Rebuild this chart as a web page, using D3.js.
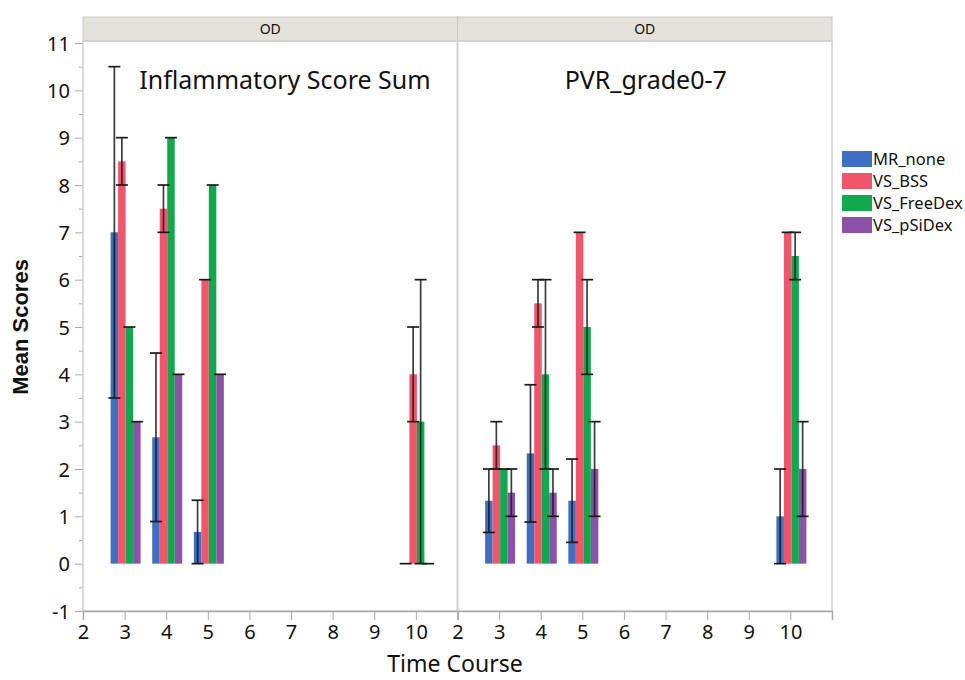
<html>
<head>
<meta charset="utf-8">
<title>Mean Scores by Time Course</title>
<script src="https://d3js.org/d3.v7.min.js"></script>
<style>
  body { margin: 0; background: #fff; }
  text { font-family: "Noto Sans", "Open Sans", sans-serif; fill: #111; }
</style>
</head>
<body>
<script>
// values
var times = [3, 4, 5, 10];
var groups = ["MR_none", "VS_BSS", "VS_FreeDex", "VS_pSiDex"];
var colors = ["#3f6fc2", "#f0566b", "#12a84f", "#8b52a8"];
var panel_titles = ["Inflammatory Score Sum", "PVR_grade0-7"];
var strip_labels = ["OD", "OD"];
var x_ticks = [2, 3, 4, 5, 6, 7, 8, 9, 10];
var y_ticks = [-1, 0, 1, 2, 3, 4, 5, 6, 7, 8, 9, 10, 11];

// Inflammatory Score Sum (mean, error half-width)
var infl_MR_none = [7, 2.67, 0.67, 0];
var infl_MR_none_err = [3.5, 1.78, 0.67, 0];
var infl_VS_BSS = [8.5, 7.5, 6, 4];
var infl_VS_BSS_err = [0.5, 0.5, 0, 1];
var infl_VS_FreeDex = [5, 9, 8, 3];
var infl_VS_FreeDex_err = [0, 0, 0, 3];
var infl_VS_pSiDex = [3, 4, 4, 0];
var infl_VS_pSiDex_err = [0, 0, 0, 0];

// PVR_grade0-7
var pvr_MR_none = [1.33, 2.33, 1.33, 1];
var pvr_MR_none_err = [0.67, 1.45, 0.88, 1];
var pvr_VS_BSS = [2.5, 5.5, 7, 7];
var pvr_VS_BSS_err = [0.5, 0.5, 0, 0];
var pvr_VS_FreeDex = [2, 4, 5, 6.5];
var pvr_VS_FreeDex_err = [0, 2, 1, 0.5];
var pvr_VS_pSiDex = [1.5, 1.5, 2, 2];
var pvr_VS_pSiDex_err = [0.5, 0.5, 1, 1];

var panels = [
    { means: [infl_MR_none, infl_VS_BSS, infl_VS_FreeDex, infl_VS_pSiDex],
      errs: [infl_MR_none_err, infl_VS_BSS_err, infl_VS_FreeDex_err, infl_VS_pSiDex_err] },
    { means: [pvr_MR_none, pvr_VS_BSS, pvr_VS_FreeDex, pvr_VS_pSiDex],
      errs: [pvr_MR_none_err, pvr_VS_BSS_err, pvr_VS_FreeDex_err, pvr_VS_pSiDex_err] }
];

var width = 965, height = 680;
var plot_top = 41, plot_bottom = 611;
var strip_top = 17;
var panel_left = [83, 457.5];
var panel_w = 374.5;

var svg = d3.select("body").append("svg")
    .attr("width", width)
    .attr("height", height);

var y = d3.scaleLinear().domain([-1, 11]).range([611, 43]);
var plain = function (d) { return String(d); };

// y axis with half-unit minor ticks
var yMinor = d3.range(-1, 11.01, 0.5).filter(function (d) { return d % 1 !== 0; });
svg.append("g")
    .attr("transform", "translate(" + panel_left[0] + ",0)")
    .call(d3.axisLeft(y).tickValues(yMinor).tickSize(4).tickFormat(""))
    .call(function (g) { g.select(".domain").remove(); g.selectAll("line").attr("stroke", "#aaa"); });
svg.append("g")
    .attr("transform", "translate(" + panel_left[0] + ",0)")
    .call(d3.axisLeft(y).tickValues(y_ticks).tickSize(8).tickPadding(5).tickFormat(plain))
    .call(function (g) {
        g.select(".domain").remove();
        g.selectAll("line").attr("stroke", "#aaa");
        g.selectAll("text").style("font-size", "20px").attr("dy", "0.36em");
    });

var cap = 12;
var groupW = 30;

panels.forEach(function (p, pi) {
    var x0 = panel_left[pi];
    var x = d3.scaleLinear().domain([2, 11]).range([x0, x0 + panel_w]);
    var inner = d3.scaleBand().domain(groups).range([-groupW / 2, groupW / 2]);

    // header strip
    svg.append("rect")
        .attr("x", x0).attr("y", strip_top)
        .attr("width", panel_w).attr("height", plot_top - strip_top)
        .attr("fill", "#e4e2d9").attr("stroke", "#c9c7bf").attr("stroke-width", 1);
    svg.append("text")
        .attr("x", x0 + panel_w / 2).attr("y", 34)
        .attr("text-anchor", "middle")
        .style("font-size", "14px")
        .text(strip_labels[pi]);

    // panel frame
    svg.append("rect")
        .attr("x", x0).attr("y", plot_top)
        .attr("width", panel_w).attr("height", plot_bottom - plot_top)
        .attr("fill", "none").attr("stroke", "#cfcfcf").attr("stroke-width", 1.5);

    // x axis
    svg.append("g")
        .attr("transform", "translate(0," + plot_bottom + ")")
        .call(d3.axisBottom(x).tickValues(x_ticks).tickSize(9).tickPadding(5).tickFormat(plain))
        .call(function (g) {
            g.select(".domain").attr("stroke", "#aaa").attr("stroke-width", 1.5);
            g.selectAll("line").attr("stroke", "#aaa");
            g.selectAll("text").style("font-size", "20px");
        });

    // panel title
    svg.append("text")
        .attr("x", pi === 0 ? x0 + 202 : x0 + panel_w / 2 + 1)
        .attr("y", 89)
        .attr("text-anchor", "middle")
        .style("font-size", "25px")
        .text(panel_titles[pi]);

    // bars
    var bars = [];
    groups.forEach(function (gname, gi) {
        times.forEach(function (t, ti) {
            var m = p.means[gi][ti];
            if (m === null) return;
            bars.push({ g: gname, gi: gi, t: t, m: m, e: p.errs[gi][ti] });
        });
    });

    var cx = function (d) { return x(d.t) + inner(d.g) + inner.bandwidth() / 2 + 1; };

    svg.append("g").selectAll("rect")
        .data(bars)
        .enter()
        .append("rect")
        .attr("x", function (d) { return x(d.t) + inner(d.g) + 1; })
        .attr("width", inner.bandwidth())
        .attr("y", function (d) { return y(Math.max(0, d.m)); })
        .attr("height", function (d) { return Math.abs(y(0) - y(d.m)); })
        .attr("fill", function (d) { return colors[d.gi]; });

    // error bars
    var eg = svg.append("g").attr("stroke", "#1a1a1a").attr("stroke-width", 1.7);
    eg.selectAll("line.v")
        .data(bars.filter(function (d) { return d.e > 0; }))
        .enter()
        .append("line")
        .attr("class", "v")
        .attr("x1", cx).attr("x2", cx)
        .attr("y1", function (d) { return y(d.m + d.e); })
        .attr("y2", function (d) { return y(d.m - d.e); })
        .attr("stroke-opacity", 0.85);
    var caps = [];
    bars.forEach(function (d) {
        caps.push({ d: d, v: d.m + d.e });
        if (d.e > 0) caps.push({ d: d, v: d.m - d.e });
    });
    eg.selectAll("line.c")
        .data(caps)
        .enter()
        .append("line")
        .attr("class", "c")
        .attr("x1", function (c) { return cx(c.d) - cap / 2; })
        .attr("x2", function (c) { return cx(c.d) + cap / 2; })
        .attr("y1", function (c) { return y(c.v); })
        .attr("y2", function (c) { return y(c.v); });
});

// axis titles
svg.append("text")
    .attr("transform", "translate(28,327) rotate(-90)")
    .attr("text-anchor", "middle")
    .style("font-family", "'Liberation Sans', Arial, sans-serif")
    .style("font-weight", "bold")
    .style("font-size", "22px")
    .text("Mean Scores");

svg.append("text")
    .attr("x", 455).attr("y", 672)
    .attr("text-anchor", "middle")
    .style("font-size", "23px")
    .text("Time Course");

// legend
var legend = svg.append("g").attr("transform", "translate(842,151)");
var rows = legend.selectAll("g")
    .data(groups)
    .enter()
    .append("g")
    .attr("transform", function (d, i) { return "translate(0," + i * 22 + ")"; });
rows.append("rect")
    .attr("width", 30).attr("height", 16)
    .attr("fill", function (d, i) { return colors[i]; });
rows.append("text")
    .attr("x", 31).attr("y", 8)
    .attr("dy", "0.36em")
    .style("font-size", "16.5px")
    .text(function (d) { return d; });
</script>
</body>
</html>
